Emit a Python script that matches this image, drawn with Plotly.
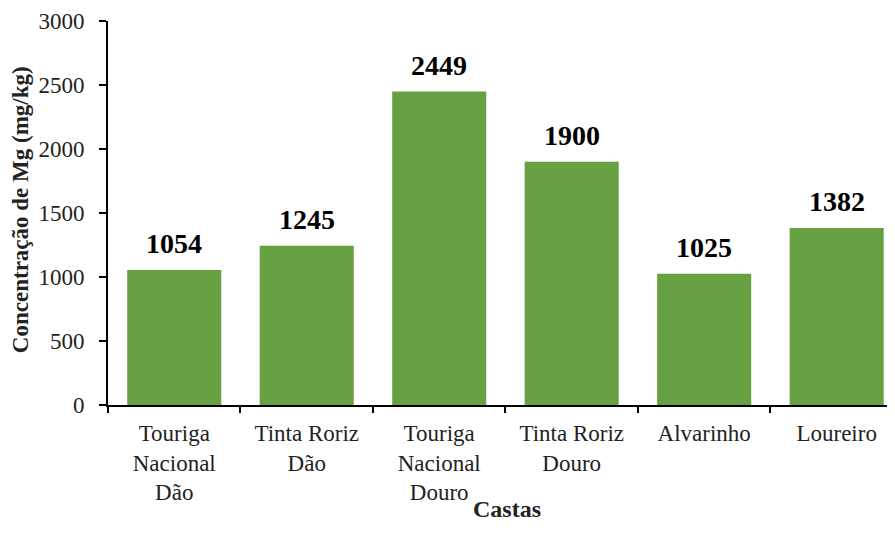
import plotly.graph_objects as go

castas = [
    "Touriga<br>Nacional<br>Dão",
    "Tinta Roriz<br>Dão",
    "Touriga<br>Nacional<br>Douro",
    "Tinta Roriz<br>Douro",
    "Alvarinho",
    "Loureiro",
]
mg = [1054, 1245, 2449, 1900, 1025, 1382]

serif = "Times New Roman, Liberation Serif, DejaVu Serif, serif"

fig = go.Figure()
fig.add_trace(go.Bar(
    x=castas,
    y=mg,
    marker=dict(color="#67A042", line=dict(width=0)),
    showlegend=False,
))

# value labels above bars
for c, v in zip(castas, mg):
    fig.add_annotation(
        x=c, y=v, text=f"<b>{v}</b>", showarrow=False,
        yanchor="bottom", yshift=9,
        font=dict(family=serif, size=28, color="black"),
    )

# axis titles
fig.add_annotation(
    xref="paper", yref="paper", x=0.512, y=-0.311, yanchor="bottom",
    text="<b>Castas</b>", showarrow=False,
    font=dict(family=serif, size=24, color="#222"),
)
fig.add_annotation(
    xref="paper", yref="paper", x=-0.113, y=0.51, xanchor="center",
    text="<b>Concentração de Mg (mg/kg)</b>", showarrow=False, textangle=-90,
    font=dict(family=serif, size=23, color="#222"),
)

fig.update_layout(
    width=879,
    height=517,
    margin=dict(l=100, r=0, t=13, b=120, autoexpand=False),
    paper_bgcolor="white",
    plot_bgcolor="white",
    bargap=0.29,
    font=dict(family=serif, color="black"),
    xaxis=dict(
        range=[-0.5, 5.38], automargin=False,
        showline=True, linecolor="black", linewidth=2,
        ticks="outside", tickson="boundaries", ticklen=6, tickwidth=2, tickcolor="black",
        ticklabelstandoff=6,
        tickfont=dict(family=serif, size=23, color="#222"),
    ),
    yaxis=dict(
        range=[0, 3000], automargin=False,
        tickvals=[0, 500, 1000, 1500, 2000, 2500, 3000],
        showgrid=False, zeroline=False,
        showline=True, linecolor="black", linewidth=2,
        ticks="outside", ticklen=7, tickwidth=2, tickcolor="black",
        ticklabelstandoff=10,
        tickfont=dict(family=serif, size=23, color="#222"),
    ),
)

fig.write_html("out.html")
